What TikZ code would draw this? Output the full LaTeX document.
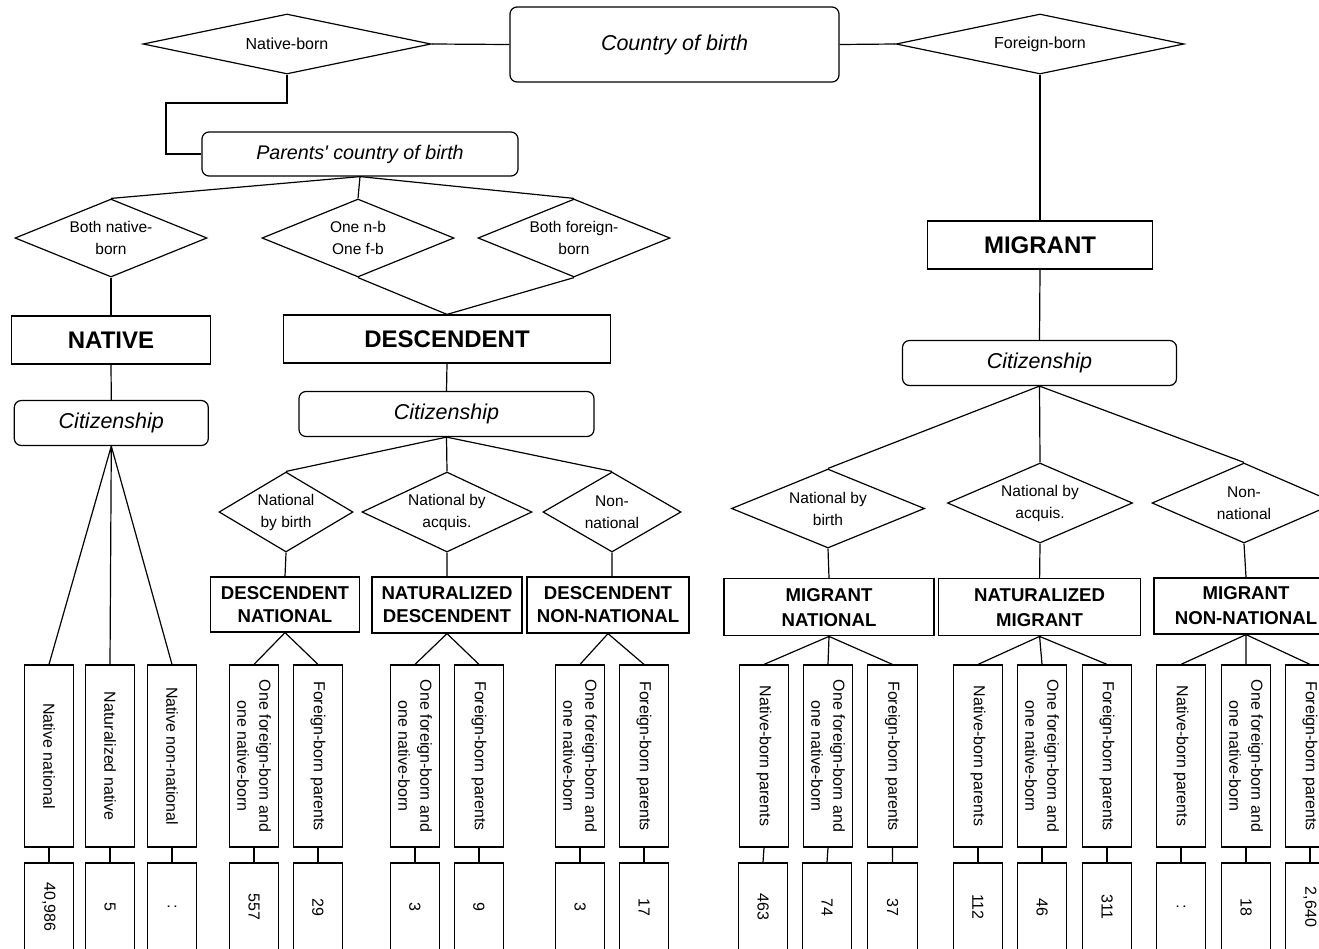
\documentclass[tikz,border=0pt]{standalone}
\usepackage{fontspec}
\setmainfont{Liberation Sans}
\usetikzlibrary{shapes.geometric}

\begin{document}
\begin{tikzpicture}[x=1pt, y=-1pt, line width=1.2pt,
        every node/.style={inner sep=0pt},
        rbox/.style={draw, rounded corners=7pt, font=\fontsize{21.5}{26}\selectfont\itshape},
        cat/.style={draw, font=\fontsize{24}{28}\selectfont\bfseries},
        grp/.style={draw, align=center, font=\fontsize{18.6}{23}\selectfont\bfseries},
        dia/.style={draw, diamond, aspect=2.2, inner sep=-4pt, align=center, font=\fontsize{15.5}{22}\selectfont},
        tall/.style={draw, rotate=-90, align=center, minimum width=182, minimum height=49.5, font=\fontsize{16}{22}\selectfont},
        num/.style={draw, rotate=-90, minimum width=88, minimum height=49.5, font=\fontsize{16}{19}\selectfont}]
            \useasboundingbox (0,0) rectangle (1319,948);
            \clip (0,0) rectangle (1319,948);

            % country of birth
            \node[rbox, minimum width=329, minimum height=75] (cob) at (674.5,44.5) {Country of birth};
            \node[dia, minimum width=288, minimum height=60, font=\fontsize{16}{20}\selectfont] (nb) at (287,44) {Native-born};
            \node[dia, minimum width=288, minimum height=60, font=\fontsize{16}{20}\selectfont] (fb) at (1040,44) {Foreign-born};
            \coordinate (bend) at (166,103);

            % parents' country of birth
            \node[rbox, minimum width=316, minimum height=44, font=\fontsize{19.7}{24}\selectfont\itshape] (pcob) at (360,154) {Parents\textquotesingle{} country of birth};
            \node[dia, minimum width=192, minimum height=78] (bnb) at (111,238) {Both native-\\born};
            \node[dia, minimum width=192, minimum height=78] (onb) at (358,238) {One n-b\\One f-b};
            \node[dia, minimum width=192, minimum height=78] (bfb) at (574,238) {Both foreign-\\born};

            \node[cat, minimum width=199, minimum height=48] (native) at (111,340) {NATIVE};
            \node[cat, minimum width=327, minimum height=48] (desc) at (447,339) {DESCENDENT};
            \node[cat, minimum width=225, minimum height=48] (migrant) at (1040,245) {MIGRANT};

            % citizenship
            \node[rbox, minimum width=194, minimum height=45] (citn) at (111.3,423) {Citizenship};
            \node[rbox, minimum width=295, minimum height=45] (citd) at (446.5,414) {Citizenship};
            \node[rbox, minimum width=274, minimum height=45] (citm) at (1039.5,363) {Citizenship};

            \node[dia, minimum width=134, minimum height=80, aspect=1.7] (dnb) at (286,512) {National\\by birth};
            \node[dia, minimum width=170, minimum height=80] (dna) at (447,512) {National by\\acquis.};
            \node[dia, minimum width=138, minimum height=80] (dnn) at (612,512) {Non-\\national};
            \node[dia, minimum width=193, minimum height=79] (mnb) at (828,508.5) {National by\\birth};
            \node[dia, minimum width=185, minimum height=80] (mna) at (1040,503) {National by\\acquis.};
            \node[dia, minimum width=184, minimum height=80] (mnn) at (1244,503) {Non-\\national};

            \node[grp, minimum width=149, minimum height=55] (dnat) at (285,604.5) {DESCENDENT\\NATIONAL};
            \node[grp, minimum width=150, minimum height=56] (dnatz) at (447,605) {NATURALIZED\\DESCENDENT};
            \node[grp, minimum width=162, minimum height=56] (dnon) at (608,605) {DESCENDENT\\NON-NATIONAL};
            \node[grp, minimum width=210, minimum height=57, font=\fontsize{18.6}{25}\selectfont\bfseries] (mnat) at (829,607.3) {MIGRANT\\NATIONAL};
            \node[grp, minimum width=202, minimum height=57, font=\fontsize{18.6}{25}\selectfont\bfseries] (mnatz) at (1039.6,607.3) {NATURALIZED\\MIGRANT};
            \node[grp, minimum width=184, minimum height=56, font=\fontsize{18.6}{25}\selectfont\bfseries] (mnon) at (1246,606) {MIGRANT\\NON-NATIONAL};

            % parents' country of birth, per group
            \node[tall] (nn) at (49,756) {Native national};
            \node[tall] (nz) at (110,756) {Naturalized native};
            \node[tall] (nnn) at (172,756) {Native non-national};
            \node[tall] (d1a) at (254,756) {One foreign-born and\\one native-born};
            \node[tall] (d1b) at (318,756) {Foreign-born parents};
            \node[tall] (d2a) at (415,756) {One foreign-born and\\one native-born};
            \node[tall] (d2b) at (479,756) {Foreign-born parents};
            \node[tall] (d3a) at (580,756) {One foreign-born and\\one native-born};
            \node[tall] (d3b) at (644,756) {Foreign-born parents};
            \node[tall] (m1a) at (764,756) {Native-born parents};
            \node[tall] (m1b) at (828,756) {One foreign-born and\\one native-born};
            \node[tall] (m1c) at (892.5,756) {Foreign-born parents};
            \node[tall] (m2a) at (978,756) {Native-born parents};
            \node[tall] (m2b) at (1042,756) {One foreign-born and\\one native-born};
            \node[tall] (m2c) at (1107,756) {Foreign-born parents};
            \node[tall] (m3a) at (1181,756) {Native-born parents};
            \node[tall] (m3b) at (1246,756) {One foreign-born and\\one native-born};
            \node[tall] (m3c) at (1310,756) {Foreign-born parents};

            % values
            \node[num] (nnv) at (49,907) {40,986};
            \node[num] (nzv) at (110,907) {5};
            \node[num] (nnnv) at (172,907) {:};
            \node[num] (d1av) at (254,907) {557};
            \node[num] (d1bv) at (318,907) {29};
            \node[num] (d2av) at (415,907) {3};
            \node[num] (d2bv) at (479,907) {9};
            \node[num] (d3av) at (580,907) {3};
            \node[num] (d3bv) at (644,907) {17};
            \node[num] (m1av) at (763,907) {463};
            \node[num] (m1bv) at (827,907) {74};
            \node[num] (m1cv) at (892.5,907) {37};
            \node[num] (m2av) at (978,907) {112};
            \node[num] (m2bv) at (1042,907) {46};
            \node[num] (m2cv) at (1107,907) {311};
            \node[num] (m3av) at (1181,907) {:};
            \node[num] (m3bv) at (1246,907) {18};
            \node[num] (m3cv) at (1310,907) {2,640};

            % connectors
            \draw (nb.east) -- (cob.west);
            \draw (cob.east) -- (fb.west);
            \draw (nb.south) |- (bend) |- (pcob.west);
            \draw (pcob.south) -- (bnb.north) (pcob.south) -- (onb.north) (pcob.south) -- (bfb.north);
            \draw (bnb.south) -- (native.north);
            \draw (onb.south) -- (desc.north) -- (bfb.south);
            \draw (fb.south) -- (migrant.north);
            \draw (native.south) -- (citn.north);
            \draw (desc.south) -- (citd.north);
            \draw (migrant.south) -- (citm.north);
            \draw (citn.south) -- (nn.west) (citn.south) -- (nz.west) (citn.south) -- (nnn.west);
            \draw (citd.south) -- (dnb.north) (citd.south) -- (dna.north) (citd.south) -- (dnn.north);
            \draw (citm.south) -- (mnb.north) (citm.south) -- (mna.north) (citm.south) -- (mnn.north);
            \draw (dnb.south) -- (dnat.north) (dna.south) -- (dnatz.north) (dnn.south) -- (dnn.south |- dnon.north);
            \draw (mnb.south) -- (mnat.north) (mna.south) -- (mnatz.north) (mnn.south) -- (mnon.north);
            \draw (dnat.south) -- (d1a.west) (dnat.south) -- (d1b.west);
            \draw (dnatz.south) -- (d2a.west) (dnatz.south) -- (d2b.west);
            \draw (dnon.south) -- (d3a.west) (dnon.south) -- (d3b.west);
            \draw (mnat.south) -- (m1a.west) (mnat.south) -- (m1b.west) (mnat.south) -- (m1c.west);
            \draw (mnatz.south) -- (m2a.west) (mnatz.south) -- (m2b.west) (mnatz.south) -- (m2c.west);
            \draw (mnon.south) -- (m3a.west) (mnon.south) -- (m3b.west) (mnon.south) -- (m3c.west);
            \draw (nn.east) -- (nnv.west) (nz.east) -- (nzv.west) (nnn.east) -- (nnnv.west);
            \draw (d1a.east) -- (d1av.west) (d1b.east) -- (d1bv.west);
            \draw (d2a.east) -- (d2av.west) (d2b.east) -- (d2bv.west);
            \draw (d3a.east) -- (d3av.west) (d3b.east) -- (d3bv.west);
            \draw (m1a.east) -- (m1av.west) (m1b.east) -- (m1bv.west) (m1c.east) -- (m1cv.west);
            \draw (m2a.east) -- (m2av.west) (m2b.east) -- (m2bv.west) (m2c.east) -- (m2cv.west);
            \draw (m3a.east) -- (m3av.west) (m3b.east) -- (m3bv.west) (m3c.east) -- (m3cv.west);

        \end{tikzpicture}
\end{document}
